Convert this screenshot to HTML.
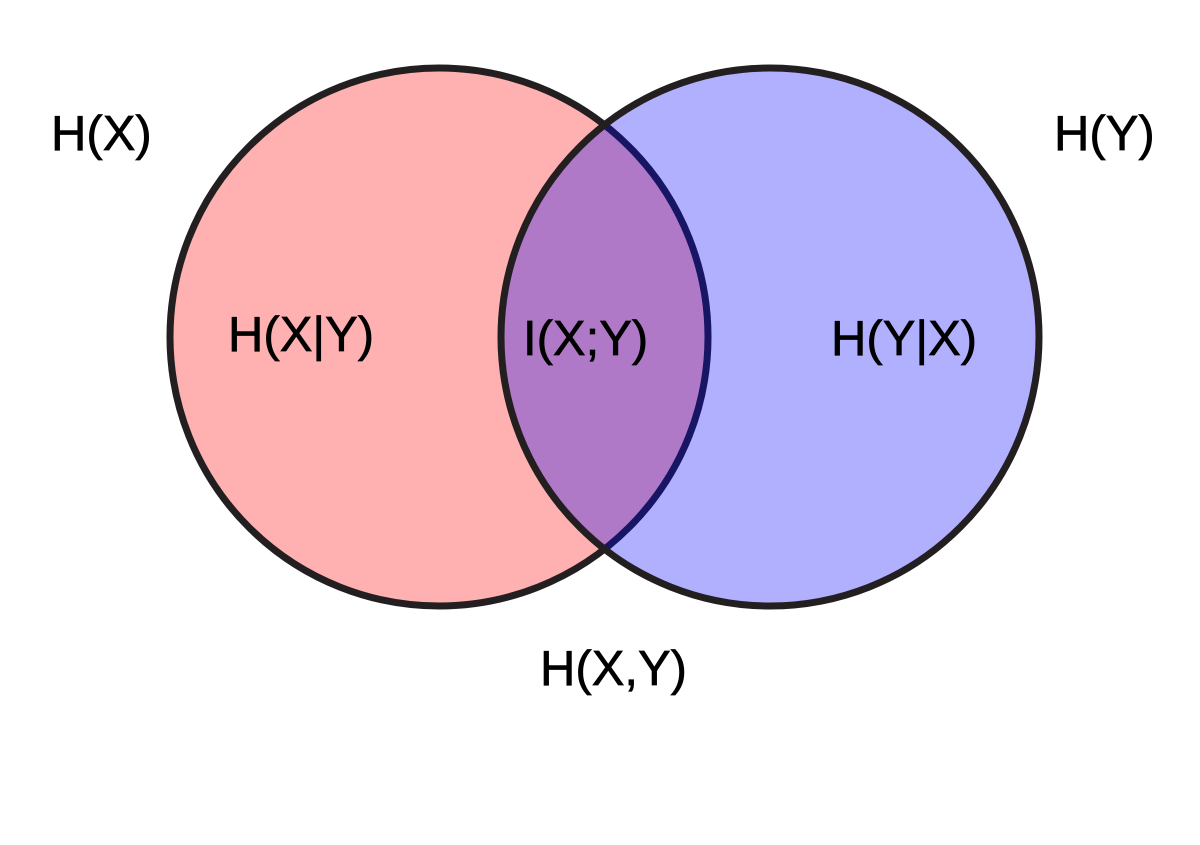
<!DOCTYPE html>
<html><head><meta charset="utf-8"><style>
html,body{margin:0;padding:0;background:#fff;}
svg{display:block}
text{font-family:"Liberation Sans",Arial,sans-serif;font-size:49px;fill:#000;stroke:#000;stroke-width:0.7}
</style></head><body>
<svg width="1200" height="845" viewBox="0 0 1200 845" xmlns="http://www.w3.org/2000/svg">
<rect width="1200" height="845" fill="#fff"/>
<circle cx="439" cy="337" r="269" fill="#FFB0B0" stroke="#231F20" stroke-width="7"/>
<circle cx="770" cy="337" r="269" fill="#0000FF" fill-opacity="0.31"/>
<circle cx="770" cy="337" r="269" fill="none" stroke="#231F20" stroke-width="7"/>
<text x="51" y="150">H(X)</text>
<text x="1054" y="150">H(Y)</text>
<text x="228" y="351">H(X|Y)</text>
<text x="523" y="355">I(X;Y)</text>
<text x="831" y="355">H(Y|X)</text>
<text x="540" y="685">H(X,Y)</text>
</svg>
</body></html>
